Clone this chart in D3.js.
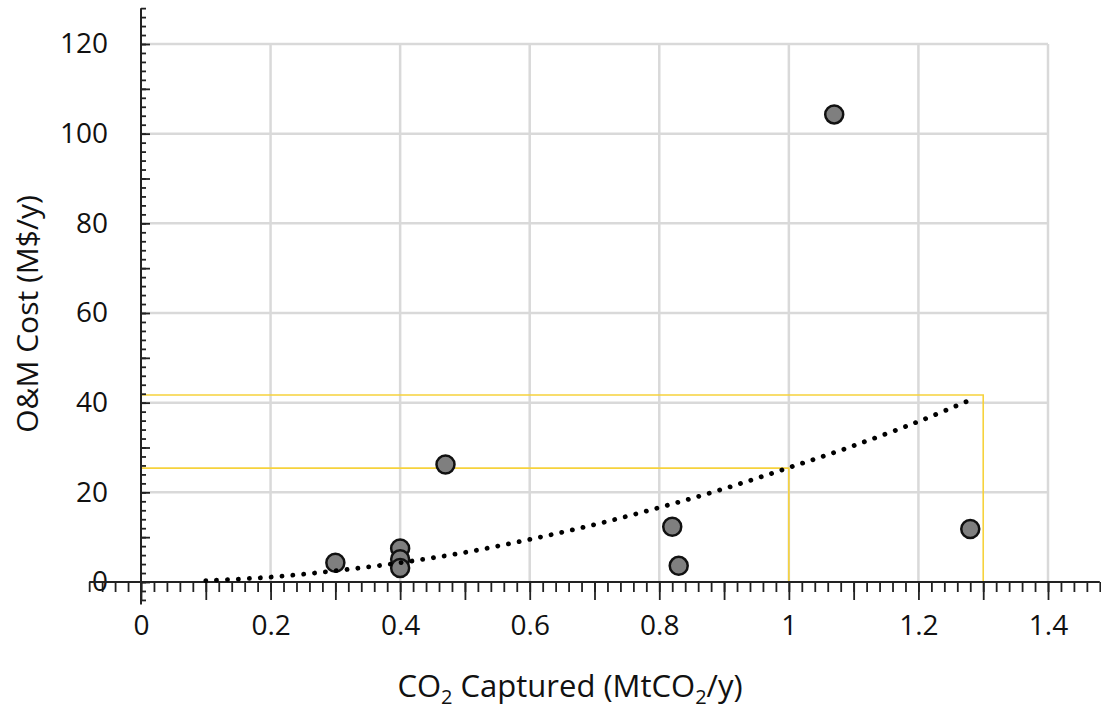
<!DOCTYPE html>
<html>
<head>
<meta charset="utf-8">
<script src="https://cdn.jsdelivr.net/npm/d3@7"></script>
<style>
  body { margin: 0; background: #fff; }
  text { font-family: "Open Sans", "Noto Sans", sans-serif; fill: #111; }
</style>
</head>
<body>
<div id="viz"></div>
<script>
// scatter points (CO2 captured, O&M cost)
const pointX = [0.30, 0.40, 0.40, 0.40, 0.47, 0.82, 0.83, 1.07, 1.28];
const pointY = [4.3, 7.5, 5.1, 3.1, 26.2, 12.3, 3.6, 104.3, 11.8];

// dotted trend line
const trendX = [0.10, 0.20, 0.30, 0.40, 0.50, 0.60, 0.70, 0.80, 0.90, 1.00, 1.10, 1.20, 1.28];
const trendY = [0.3, 1.1, 2.5, 4.3, 6.6, 9.5, 12.8, 16.6, 20.8, 25.5, 30.4, 35.8, 40.6];

// yellow guide lines (x where it drops, y level)
const guideX = [1.0, 1.3];
const guideY = [25.4, 41.7];

const xTicks = [0, 0.2, 0.4, 0.6, 0.8, 1, 1.2, 1.4];
const yTicks = [0, 20, 40, 60, 80, 100, 120];

const width = 1101, height = 711;

let svg = d3.select("#viz")
  .append("svg")
    .attr("width", width)
    .attr("height", height);

let xScale = d3.scaleLinear().domain([0, 1.4]).range([141, 1048]);
let yScale = d3.scaleLinear().domain([0, 120]).range([582, 44]);

// gridlines
let grid = svg.append("g").attr("class", "grid");
grid.selectAll("line.v")
  .data(xTicks.filter(d => d > 0))
  .enter().append("line")
    .attr("x1", d => xScale(d)).attr("x2", d => xScale(d))
    .attr("y1", yScale(0)).attr("y2", yScale(120))
    .attr("stroke", "#d9d9d9").attr("stroke-width", 2.5);
grid.selectAll("line.h")
  .data(yTicks.filter(d => d > 0))
  .enter().append("line")
    .attr("x1", xScale(0)).attr("x2", xScale(1.4))
    .attr("y1", d => yScale(d)).attr("y2", d => yScale(d))
    .attr("stroke", "#d9d9d9").attr("stroke-width", 2.5);

// yellow guides
let guides = svg.append("g").attr("class", "guides");
guideX.forEach((gx, i) => {
  guides.append("path")
    .attr("d", "M" + xScale(0) + "," + yScale(guideY[i]) +
               "H" + xScale(gx) + "V" + yScale(0))
    .attr("fill", "none")
    .attr("stroke", "#f6d23c")
    .attr("stroke-width", 1.6);
});

// X axis: minor, major ticks and labels
let xAxisY = yScale(0);
let xMinor = d3.range(-4, 75).map(i => +(i * 0.02).toFixed(2));
let xMajor = d3.range(0, 15).map(i => +(i * 0.1).toFixed(1));

let xMinorG = svg.append("g")
  .attr("transform", "translate(0," + xAxisY + ")")
  .call(d3.axisBottom(xScale).tickValues(xMinor).tickSize(10).tickFormat(""));
let xMajorG = svg.append("g")
  .attr("transform", "translate(0," + xAxisY + ")")
  .call(d3.axisBottom(xScale).tickValues(xMajor).tickSize(18).tickFormat(""));
let xLabelG = svg.append("g")
  .attr("transform", "translate(0," + xAxisY + ")")
  .call(d3.axisBottom(xScale).tickValues(xTicks).tickSize(0).tickPadding(33)
    .tickFormat(d3.format("~g")));
[xMinorG, xMajorG, xLabelG].forEach(g => {
  g.select(".domain").remove();
  g.selectAll("line").attr("stroke", "#222").attr("stroke-width", 1.8);
});
xLabelG.selectAll("text").style("font-size", "28px").attr("fill", "#0d0d0d");

// Y axis: minor, major ticks and labels
let yAxisX = xScale(0);
let yMinor = d3.range(-2, 65).map(i => i * 2);
let yMajor = d3.range(0, 13).map(i => i * 10);

let yMinorG = svg.append("g")
  .attr("transform", "translate(" + yAxisX + ",0)")
  .call(d3.axisRight(yScale).tickValues(yMinor).tickSize(5).tickFormat(""));
let yMajorG = svg.append("g")
  .attr("transform", "translate(" + yAxisX + ",0)")
  .call(d3.axisRight(yScale).tickValues(yMajor).tickSize(9).tickFormat(""));
let yLabelG = svg.append("g")
  .attr("transform", "translate(" + yAxisX + ",0)")
  .call(d3.axisLeft(yScale).tickValues(yTicks).tickSize(0).tickPadding(33));
[yMinorG, yMajorG, yLabelG].forEach(g => {
  g.select(".domain").remove();
  g.selectAll("line").attr("stroke", "#222").attr("stroke-width", 1.8);
});
yLabelG.selectAll("text").style("font-size", "28px").attr("fill", "#0d0d0d");

// axis lines, extended past the plot area like the original
svg.append("line")
  .attr("x1", xScale(-0.08)).attr("x2", xScale(1.48))
  .attr("y1", xAxisY).attr("y2", xAxisY)
  .attr("stroke", "#222").attr("stroke-width", 2);
svg.append("line")
  .attr("x1", yAxisX).attr("x2", yAxisX)
  .attr("y1", yScale(-5)).attr("y2", yScale(128))
  .attr("stroke", "#222").attr("stroke-width", 2);

// scatter points
let points = pointX.map((x, i) => ({x: x, y: pointY[i]}));
svg.append("g")
  .attr("class", "scatter-plot")
  .selectAll("circle")
  .data(points)
  .enter().append("circle")
    .attr("cx", d => xScale(d.x))
    .attr("cy", d => yScale(d.y))
    .attr("r", 9)
    .attr("fill", "#7f7f7f")
    .attr("stroke", "#111")
    .attr("stroke-width", 2.5);

// dotted trend line (drawn over the points, as in the original)
let trend = trendX.map((x, i) => [x, trendY[i]]);
svg.append("path")
  .datum(trend)
  .attr("d", d3.line()
    .x(d => xScale(d[0]))
    .y(d => yScale(d[1]))
    .curve(d3.curveCatmullRom))
  .attr("fill", "none")
  .attr("stroke", "#000")
  .attr("stroke-width", 4.8)
  .attr("stroke-linecap", "round")
  .attr("stroke-dasharray", "0.1 10.8");

// axis titles
let xTitle = svg.append("text")
  .attr("x", 570)
  .attr("y", 697)
  .attr("text-anchor", "middle")
  .style("font-size", "31px");
xTitle.append("tspan").text("CO");
xTitle.append("tspan").attr("dy", 7).style("font-size", "20px").text("2");
xTitle.append("tspan").attr("dy", -7).text(" Captured (MtCO");
xTitle.append("tspan").attr("dy", 7).style("font-size", "20px").text("2");
xTitle.append("tspan").attr("dy", -7).text("/y)");

svg.append("text")
  .attr("transform", "translate(38,314) rotate(-90)")
  .attr("text-anchor", "middle")
  .style("font-size", "30px")
  .text("O&M Cost (M$/y)");
</script>
</body>
</html>
